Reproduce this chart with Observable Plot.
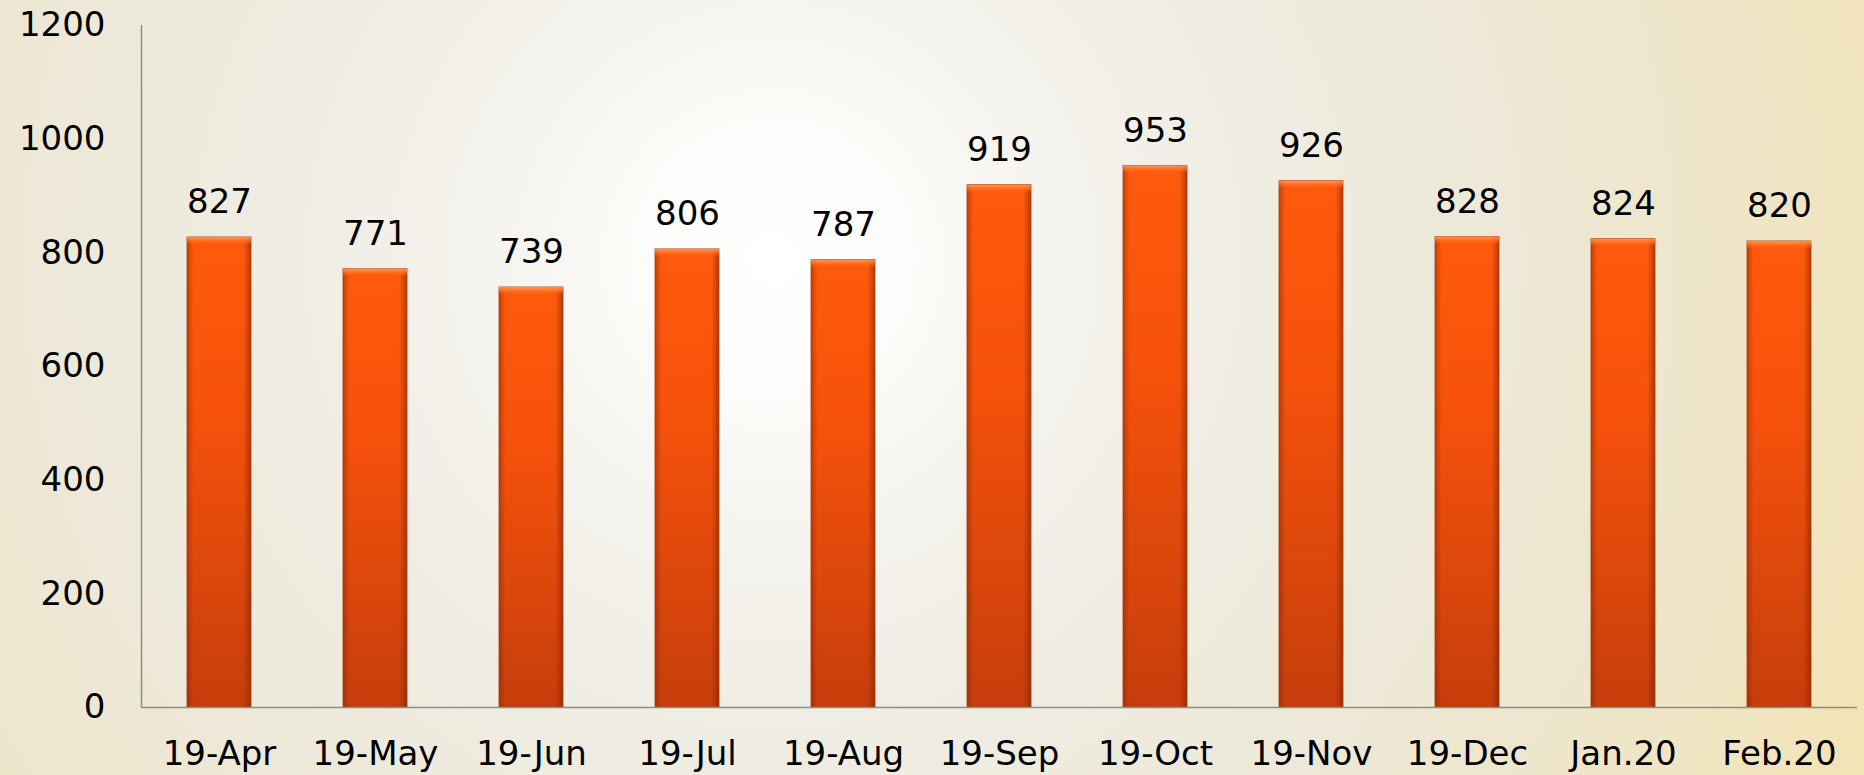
<!DOCTYPE html>
<html>
<head>
<meta charset="utf-8">
<script src="https://cdn.jsdelivr.net/npm/d3@7"></script>
<script src="https://cdn.jsdelivr.net/npm/@observablehq/plot@0.6"></script>
<style>
  html, body { margin: 0; padding: 0; width: 1864px; height: 775px; overflow: hidden; }
  body {
    background:
      radial-gradient(circle at 773px 260px,
        #ffffff 0px, #fdfdfb 120px, #f8f7f3 210px, #f4f2ec 310px,
        #f0eee5 430px, #eeebdf 570px, #ede8d6 760px, #efe5c6 1000px, #f5e3ad 1300px);
  }
  #chart svg { display: block; }
</style>
</head>
<body>
<div id="chart"></div>
<script>
const months = ["19-Apr", "19-May", "19-Jun", "19-Jul", "19-Aug", "19-Sep", "19-Oct", "19-Nov", "19-Dec", "Jan.20", "Feb.20"];
const values = [827, 771, 739, 806, 787, 919, 953, 926, 828, 824, 820];
const yTicks = [0, 200, 400, 600, 800, 1000, 1200];

const data = months.map((m, i) => ({month: m, value: values[i]}));
const font = "'DejaVu Sans', sans-serif";

const svg = Plot.plot({
  width: 1864,
  height: 775,
  marginLeft: 141,
  marginRight: 7,
  marginTop: 25,
  marginBottom: 68,
  style: {background: "transparent", fontFamily: font, fontSize: "34px", color: "#000"},
  x: {domain: months, paddingInner: 0.59, paddingOuter: 0.295, label: null, tickSize: 0, tickPadding: 33},
  y: {domain: [0, 1200], ticks: yTicks, tickFormat: d => String(d), label: null, tickSize: 0, tickPadding: 36},
  marks: [
    Plot.barY(data, {x: "month", y: "value", fill: "url(#barGrad)"}),
    Plot.barY(data, {x: "month", y: "value", fill: "url(#edgeGrad)", stroke: "#a83507", strokeWidth: 0.8}),
    Plot.barY(data, {x: "month", y1: d => d.value, y2: d => d.value - 14, fill: "url(#bevelGrad)"}),
    Plot.text(data, {x: "month", y: "value", text: d => String(d.value), dy: -35, fill: "#000", fontSize: 34}),
    Plot.ruleY([0], {stroke: "#8c8c8c", strokeWidth: 1.5}),
    Plot.ruleX([months[0]], {x: d => d, y1: 0, y2: 1200, dx: -78, stroke: "#8c8c8c", strokeWidth: 1.5})
  ]
});

const ns = "http://www.w3.org/2000/svg";
const defs = document.createElementNS(ns, "defs");
defs.innerHTML = `
  <linearGradient id="barGrad" x1="0" y1="0" x2="0" y2="1">
    <stop offset="0" stop-color="#ff5a0c"/>
    <stop offset="0.4" stop-color="#f4510b"/>
    <stop offset="1" stop-color="#c63e0c"/>
  </linearGradient>
  <linearGradient id="edgeGrad" x1="0" y1="0" x2="1" y2="0">
    <stop offset="0" stop-color="#7a2200" stop-opacity="0.45"/>
    <stop offset="0.1" stop-color="#7a2200" stop-opacity="0"/>
    <stop offset="0.88" stop-color="#7a2200" stop-opacity="0"/>
    <stop offset="1" stop-color="#7a2200" stop-opacity="0.55"/>
  </linearGradient>
  <linearGradient id="bevelGrad" x1="0" y1="0" x2="0" y2="1">
    <stop offset="0" stop-color="#ffa060" stop-opacity="0.9"/>
    <stop offset="0.5" stop-color="#ff7a30" stop-opacity="0.6"/>
    <stop offset="1" stop-color="#ff5a0c" stop-opacity="0"/>
  </linearGradient>`;
svg.insertBefore(defs, svg.firstChild);
document.getElementById("chart").appendChild(svg);
</script>
</body>
</html>
